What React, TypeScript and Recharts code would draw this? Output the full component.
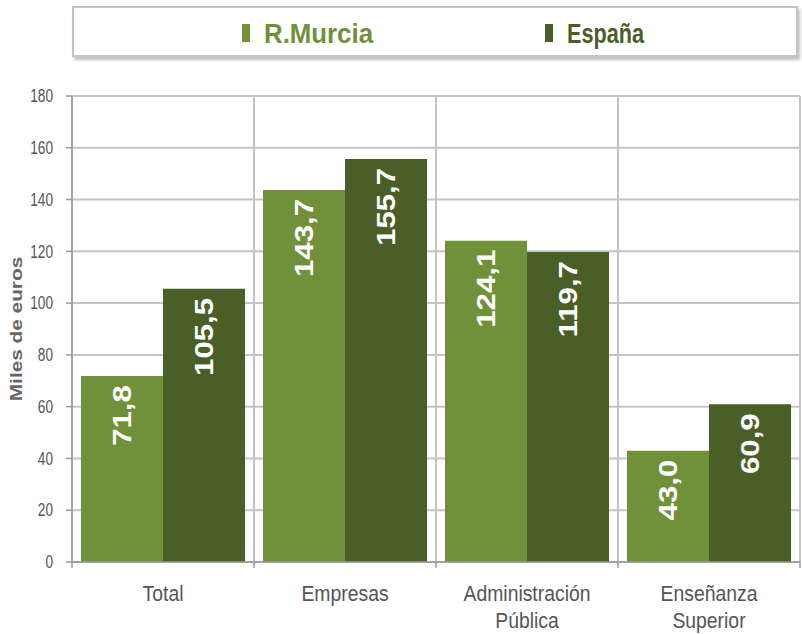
import React from 'react'
import { BarChart, Bar, XAxis, YAxis, CartesianGrid, LabelList } from 'recharts'

const categories = ['Total', 'Empresas', 'Administración\nPública', 'Enseñanza\nSuperior']
const murcia = [71.8, 143.7, 124.1, 43.0]
const espana = [105.5, 155.7, 119.7, 60.9]
const seriesNames = ['R.Murcia', 'España']
const seriesColors = ['#71903a', '#4a5e27']
const yTicks = [0, 20, 40, 60, 80, 100, 120, 140, 160, 180]

const data = categories.map((name, i) => ({ name, murcia: murcia[i], espana: espana[i] }))

const FONT = "'Liberation Sans', Arial, sans-serif"
const fmt = (v: number) => v.toFixed(1).replace('.', ',')

const ValueLabel = (props: any) => {
  const { x, y, width, value } = props
  const cx = Number(x) + Number(width) / 2
  const ty = Number(y) + 9
  return (
    <text
      transform={`translate(${cx},${ty}) rotate(-90) scale(1.2,1)`}
      textAnchor="end"
      dominantBaseline="central"
      fill="#fff"
      fontSize={26}
      fontWeight="bold"
      fontFamily={FONT}
    >
      {fmt(Number(value))}
    </text>
  )
}

const XTick = (props: any) => {
  const { x, y, payload, index } = props
  const lines = String(payload.value).split('\n')
  const half = 91
  return (
    <g>
      <line x1={x - half} x2={x - half} y1={y - 8} y2={y - 2} stroke="#999" strokeWidth={1.5} />
      {index === categories.length - 1 && (
        <line x1={x + half} x2={x + half} y1={y - 8} y2={y - 2} stroke="#999" strokeWidth={1.5} />
      )}
      {lines.map((l, i) => (
        <text
          key={i}
          transform={`translate(${x},${y + 23 + i * 27}) scale(0.88,1)`}
          textAnchor="middle"
          dominantBaseline="central"
          fill="#555"
          fontSize={22}
          fontFamily={FONT}
        >
          {l}
        </text>
      ))}
    </g>
  )
}

const YTick = (props: any) => {
  const { x, y, payload } = props
  return (
    <text
      transform={`translate(${x},${y}) scale(0.76,1)`}
      textAnchor="end"
      dominantBaseline="central"
      fill="#555"
      fontSize={18}
      fontFamily={FONT}
    >
      {payload.value}
    </text>
  )
}

const YLabel = () => (
  <text
    transform="translate(16,329) rotate(-90) scale(1.3,1)"
    textAnchor="middle"
    dominantBaseline="central"
    fill="#666"
    fontSize={16}
    fontWeight="bold"
    fontFamily={FONT}
  >
    Miles de euros
  </text>
)

const legendX = [168, 471]
const legendWidths = [109, 77]

const LegendBox = () => (
  <div
    style={{
      position: 'absolute',
      left: 72,
      top: 6,
      width: 722,
      height: 47,
      border: '2px solid #c4c4c4',
      boxShadow: '2px 3px 3px rgba(0,0,0,0.25)',
      background: '#fff',
    }}
  >
    <svg width={722} height={47}>
      {seriesNames.map((n, i) => (
        <g key={n}>
          <rect x={legendX[i]} y={16} width={8} height={18} fill={seriesColors[i]} />
          <text
            x={legendX[i] + 22}
            y={35}
            fill={seriesColors[i]}
            fontSize={27}
            fontWeight="bold"
            fontFamily={FONT}
            textLength={legendWidths[i]}
            lengthAdjust="spacingAndGlyphs"
          >
            {n}
          </text>
        </g>
      ))}
    </svg>
  </div>
)

export default function App() {
  return (
    <div style={{ position: 'absolute', left: 0, top: 0, width: 802, height: 634, background: '#fff' }}>
      <BarChart
        width={802}
        height={634}
        data={data}
        margin={{ top: 96, right: 2, left: 0, bottom: 0 }}
        barCategoryGap={9}
        barGap={0}
      >
        <CartesianGrid
          stroke="#c4c4c4"
          strokeWidth={2}
          verticalCoordinatesGenerator={({ offset }: any) =>
            [0, 1, 2, 3, 4].map((i) => offset.left + (i * offset.width) / 4)
          }
        />
        <XAxis
          dataKey="name"
          height={72}
          axisLine={{ stroke: '#999', strokeWidth: 1.5 }}
          tickLine={false}
          tick={<XTick />}
          interval={0}
        />
        <YAxis
          width={72}
          domain={[0, 180]}
          ticks={yTicks}
          interval={0}
          axisLine={{ stroke: '#999', strokeWidth: 1.5 }}
          tickLine={{ stroke: '#999', strokeWidth: 1.5 }}
          tickSize={6}
          tickMargin={13}
          tick={<YTick />}
          label={<YLabel />}
        />
        <Bar dataKey="murcia" name={seriesNames[0]} fill={seriesColors[0]} isAnimationActive={false}>
          <LabelList dataKey="murcia" content={<ValueLabel />} />
        </Bar>
        <Bar dataKey="espana" name={seriesNames[1]} fill={seriesColors[1]} isAnimationActive={false}>
          <LabelList dataKey="espana" content={<ValueLabel />} />
        </Bar>
      </BarChart>
      <LegendBox />
    </div>
  )
}
